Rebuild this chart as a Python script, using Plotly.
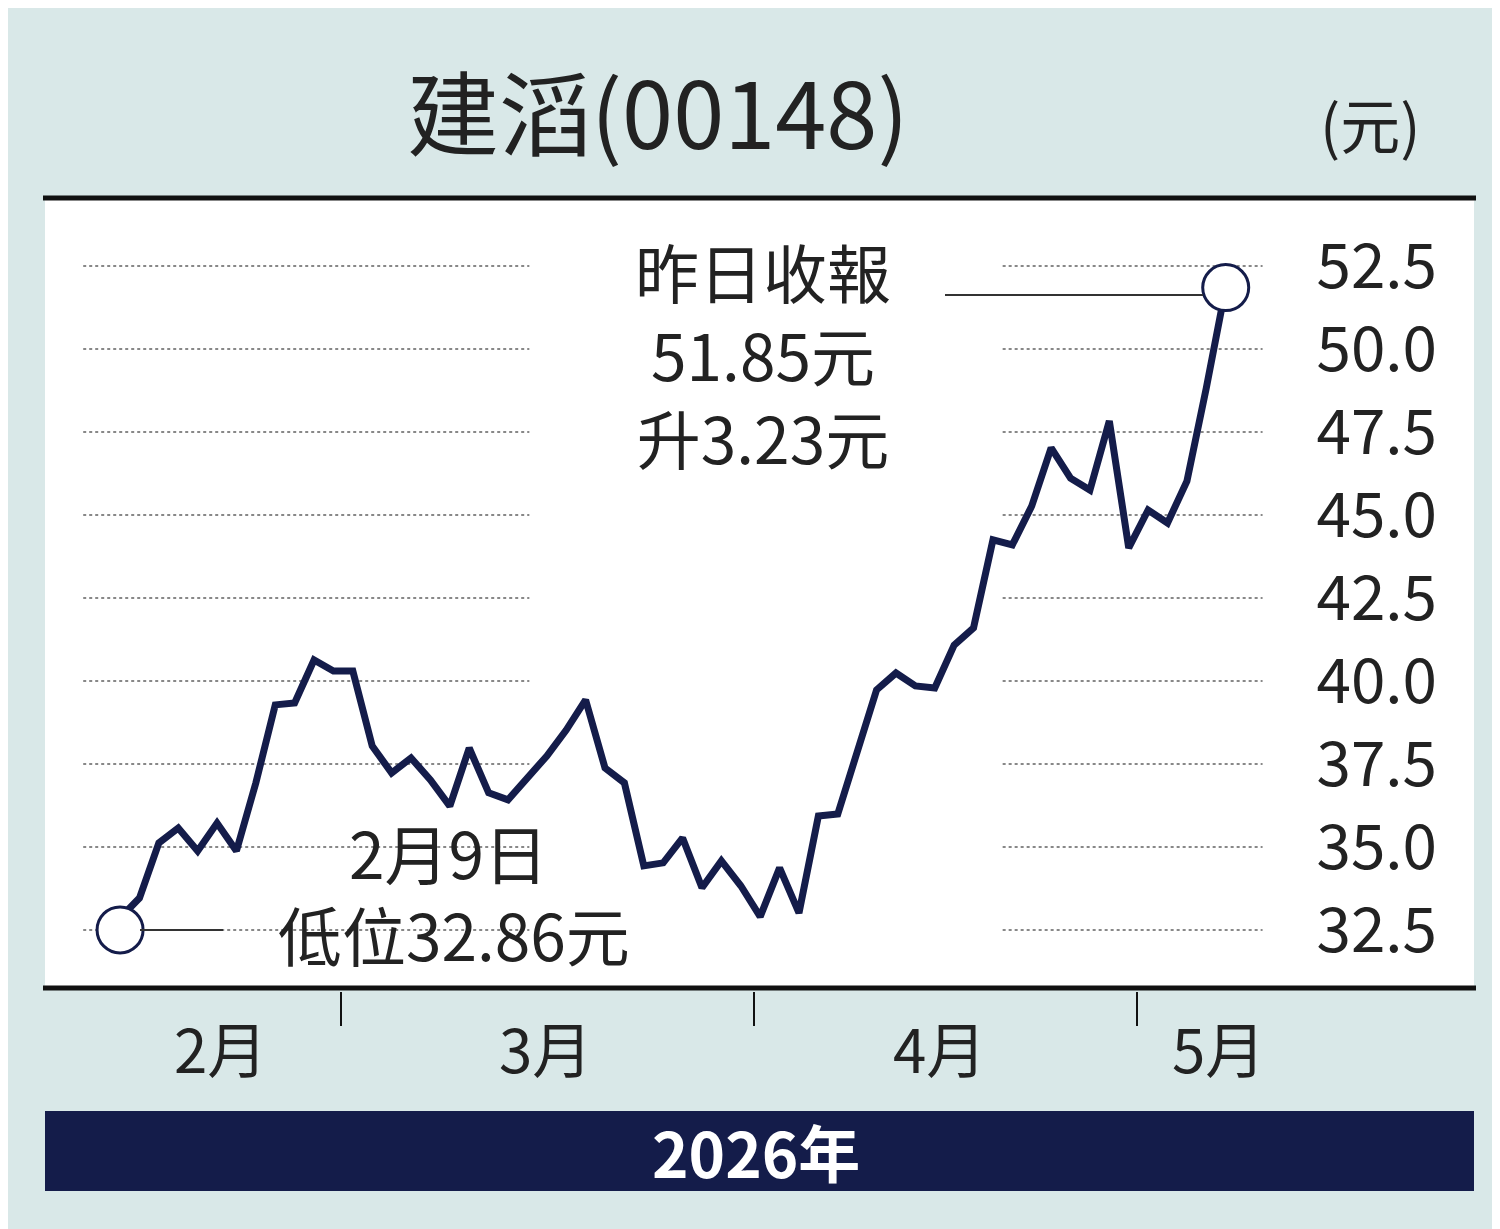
import plotly.graph_objects as go

prices = [32.86,33.46,35.12,35.57,34.88,35.72,34.88,36.93,39.28,39.34,40.63,40.30,40.30,38.04,37.23,37.68,37.02,36.23,37.98,36.63,36.42,37.08,37.74,38.52,39.43,37.38,36.93,34.43,34.52,35.27,33.77,34.58,33.83,32.90,34.37,33.01,35.93,35.99,37.92,39.73,40.24,39.85,39.79,41.08,41.60,44.25,44.10,45.27,47.02,46.11,45.75,47.83,44.01,45.15,44.76,46.02,48.83,51.85]
yticks = [32.5,35.0,37.5,40.0,42.5,45.0,47.5,50.0,52.5]
months = ["2月","3月","4月","5月"]
title = "建滔(00148)"
FONT = "Noto Sans CJK TC"
NAVY = "#141c4a"
x = list(range(len(prices)))

def px(v): return v/1500
def py(v): return 1-v/1229

fig = go.Figure()
for t in yticks:
    for x0, x1 in [(-1.9, 21.1), (45.5, 58.9)]:
        fig.add_shape(type="line", xref="x", yref="y", x0=x0, x1=x1, y0=t, y1=t,
                      line=dict(color="#888", width=2, dash="dot"), layer="below")
fig.add_trace(go.Scatter(x=x, y=prices, mode="lines", line=dict(color=NAVY, width=7), hoverinfo="skip"))
fig.add_trace(go.Scatter(x=[x[0], x[-1]], y=[prices[0]-0.36, prices[-1]], mode="markers",
                         marker=dict(size=46, color="white", line=dict(color=NAVY, width=3))))

fig.update_layout(
    width=1500, height=1229, margin=dict(l=0, r=0, t=0, b=0),
    paper_bgcolor="#d9e8e8", plot_bgcolor="white", showlegend=False,
    font=dict(family=FONT, color="#222"),
    xaxis=dict(domain=[px(37), px(1466)], range=[-3.87, 69.8], showgrid=False,
               showticklabels=False, zeroline=False, fixedrange=True),
    yaxis=dict(domain=[py(980), py(190)], range=[30.75, 54.55], side="right",
               tickvals=yticks, ticktext=[f"{t:.1f}" for t in yticks],
               ticklabelposition="inside", ticklabelstandoff=34, ticks="",
               tickfont=dict(size=62, family=FONT, color="#222"),
               showgrid=False, zeroline=False),
)

def ann(xx, yy, text, size, color="#222"):
    fig.add_annotation(xref="paper", yref="paper", x=px(xx), y=py(yy), text=text, showarrow=False,
                       xanchor="center", yanchor="middle", align="center",
                       font=dict(size=size, family=FONT, color=color))

for yy in [190, 980]:
    fig.add_shape(type="line", xref="paper", yref="paper", x0=px(35), x1=px(1468), y0=py(yy), y1=py(yy),
                  line=dict(color="#111", width=5))
for xx in [333, 746, 1129]:
    fig.add_shape(type="line", xref="paper", yref="paper", x0=px(xx), x1=px(xx), y0=py(984), y1=py(1018),
                  line=dict(color="#111", width=2))
for m, xx in zip(months, [212, 537, 932, 1210]):
    ann(xx, 1038, m, 60)
fig.add_shape(type="rect", xref="paper", yref="paper", x0=px(37), x1=px(1466), y0=py(1183), y1=py(1103),
              fillcolor=NAVY, line=dict(width=0))
ann(748, 1143, "<b>2026年</b>", 62, "white")
ann(650, 100, title, 92)
ann(1362, 115, "(元)", 60)
ann(755, 345, "昨日收報<br>51.85元<br>升3.23元", 64)
fig.add_shape(type="line", xref="paper", yref="paper", x0=px(937), x1=px(1195), y0=py(287), y1=py(287),
              line=dict(color="#333", width=2))
ann(440, 843, "2月9日", 64)
ann(446, 925, "低位32.86元", 64)
fig.add_shape(type="line", xref="paper", yref="paper", x0=px(132), x1=px(215), y0=py(922), y1=py(922),
              line=dict(color="#333", width=2))

fig.write_html("out.html")
